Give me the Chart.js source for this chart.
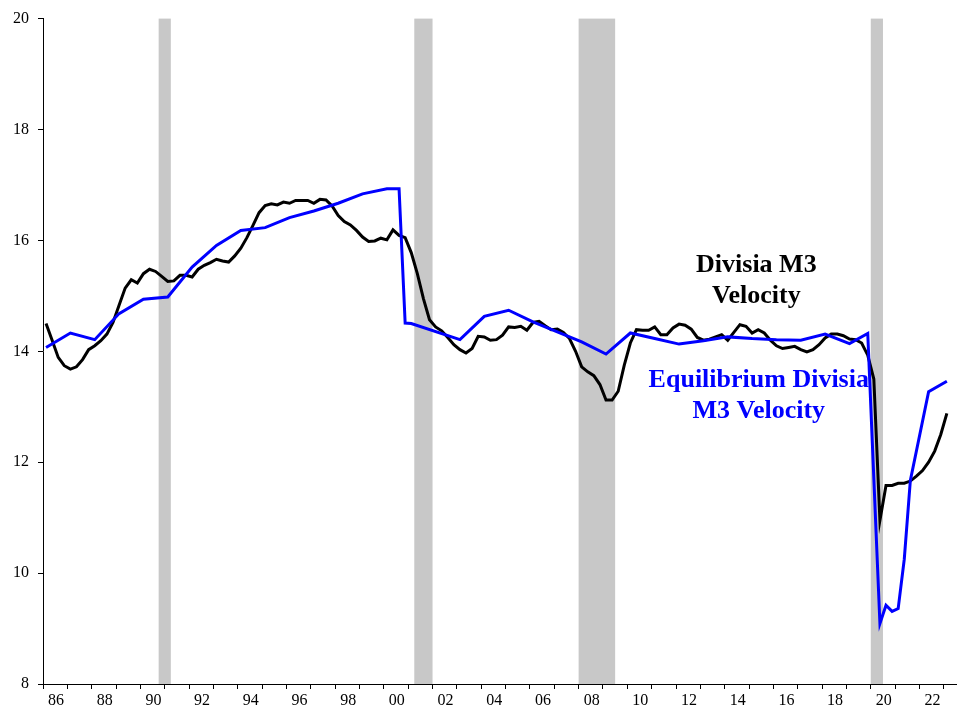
<!DOCTYPE html>
<html>
<head>
<meta charset="utf-8">
<script src="https://cdn.jsdelivr.net/npm/chart.js@4.4.0/dist/chart.umd.min.js"></script>
<style>
  html, body { margin: 0; padding: 0; background: #fff; }
</style>
</head>
<body>
<canvas id="velocityChart" width="957" height="709"></canvas>
<script>
// quarterly Divisia M3 velocity, 1986Q1 .. 2023Q1
const firstQuarter = 1986.125;
const divisiaVelocity = [
  14.50, 14.20, 13.89, 13.74,
  13.68, 13.72, 13.85, 14.03,
  14.10, 14.19, 14.31, 14.52,
  14.83, 15.14, 15.29, 15.23,
  15.40, 15.48, 15.44, 15.35,
  15.26, 15.27, 15.37, 15.37,
  15.34, 15.48, 15.55, 15.60,
  15.66, 15.63, 15.61, 15.72,
  15.86, 16.05, 16.27, 16.50,
  16.63, 16.66, 16.64, 16.69,
  16.67, 16.72, 16.72, 16.72,
  16.67, 16.74, 16.73, 16.62,
  16.45, 16.34, 16.28, 16.18,
  16.06, 15.98, 15.99, 16.04,
  16.01, 16.19, 16.09, 16.05,
  15.78, 15.40, 14.95, 14.57,
  14.44, 14.37, 14.25, 14.12,
  14.03, 13.97, 14.05, 14.27,
  14.26, 14.20, 14.21, 14.29,
  14.44, 14.43, 14.45, 14.38,
  14.52, 14.54, 14.46, 14.39,
  14.40, 14.34, 14.23, 14.00,
  13.72, 13.63, 13.56, 13.40,
  13.12, 13.12, 13.28, 13.75,
  14.15, 14.39, 14.38, 14.38,
  14.44, 14.30, 14.30, 14.42,
  14.49, 14.47, 14.40, 14.25,
  14.20, 14.22, 14.26, 14.30,
  14.20, 14.34, 14.48, 14.45,
  14.33, 14.39, 14.33, 14.20,
  14.10, 14.05, 14.07, 14.09,
  14.03, 13.99, 14.03, 14.12,
  14.24, 14.31, 14.31, 14.28,
  14.22, 14.21, 14.15, 13.93,
  13.50, 10.95, 11.58, 11.58,
  11.62, 11.62, 11.66, 11.75,
  11.85, 12.00, 12.20, 12.50,
  12.88
];

// equilibrium velocity: turning points of the blue line
const eqYears = [
  1986.125, 1987.125, 1988.125, 1989.125, 1990.125, 1991.125, 1992.125,
  1993.125, 1994.125, 1995.125, 1996.125, 1997.125, 1998.125, 1999.125,
  2000.125, 2000.625, 2000.875, 2001.125, 2003.125, 2004.125, 2005.125,
  2006.125, 2007.125, 2008.125, 2009.125, 2010.125, 2011.125, 2012.125,
  2013.125, 2014.125, 2015.125, 2016.125, 2017.125, 2018.125, 2019.125,
  2019.875, 2020.375, 2020.625, 2020.875, 2021.125, 2021.375, 2021.625,
  2022.375, 2023.125
];
const eqVelocity = [
  14.07, 14.33, 14.21, 14.68, 14.94, 14.98, 15.52,
  15.91, 16.18, 16.23, 16.41, 16.53, 16.67, 16.84,
  16.93, 16.93, 14.51, 14.50, 14.21, 14.63, 14.74,
  14.53, 14.35, 14.17, 13.95, 14.33, 14.23, 14.13,
  14.19, 14.26, 14.23, 14.21, 14.20, 14.31, 14.14,
  14.32, 9.09, 9.42, 9.31, 9.36, 10.25, 11.67,
  13.27, 13.46
];

// recessions (shaded)
const recessions = [[1990.75, 1991.25], [2001.25, 2002.0], [2008.0, 2009.5], [2020.0, 2020.5]];

const yTicks = [8, 10, 12, 14, 16, 18, 20];
const xTickYears = [];
for (let y = 1986; y <= 2023; y++) xTickYears.push(y);

const serif = '"Liberation Serif", "Times New Roman", serif';

const divisiaPoints = divisiaVelocity.map((v, i) => ({ x: firstQuarter + i * 0.25, y: v }));
const eqPoints = eqVelocity.map((v, i) => ({ x: eqYears[i], y: v }));

const recessionPlugin = {
  id: 'recessions',
  beforeDatasetsDraw(chart) {
    const { ctx, chartArea, scales } = chart;
    ctx.save();
    ctx.fillStyle = 'rgb(200,200,200)';
    recessions.forEach(([a, b]) => {
      const x0 = scales.x.getPixelForValue(a);
      const x1 = scales.x.getPixelForValue(b);
      ctx.fillRect(x0, chartArea.top, x1 - x0, chartArea.bottom - chartArea.top);
    });
    ctx.restore();
  }
};

const labels = [
  { lines: ['Divisia M3', 'Velocity'], x: 2015.3, y: 15.43, color: '#000' },
  { lines: ['Equilibrium Divisia', 'M3 Velocity'], x: 2015.4, y: 13.35, color: '#0000ff' }
];

const labelPlugin = {
  id: 'seriesLabels',
  afterDatasetsDraw(chart) {
    const { ctx, scales } = chart;
    ctx.save();
    ctx.font = 'bold 26px ' + serif;
    ctx.textAlign = 'center';
    ctx.textBaseline = 'alphabetic';
    labels.forEach(l => {
      const px = scales.x.getPixelForValue(l.x);
      const py = scales.y.getPixelForValue(l.y);
      ctx.fillStyle = l.color;
      l.lines.forEach((t, i) => ctx.fillText(t, px, py + i * 30.5));
    });
    ctx.restore();
  }
};

new Chart(document.getElementById('velocityChart'), {
  type: 'line',
  data: {
    datasets: [
      {
        label: 'Equilibrium Divisia M3 Velocity',
        data: eqPoints,
        borderColor: '#0000ff',
        borderWidth: 3,
        pointRadius: 0,
        tension: 0,
        fill: false
      },
      {
        label: 'Divisia M3 Velocity',
        data: divisiaPoints,
        borderColor: '#000',
        borderWidth: 3,
        pointRadius: 0,
        tension: 0,
        fill: false
      }
    ]
  },
  options: {
    responsive: false,
    animation: false,
    layout: { padding: { top: 9, right: 1, left: 0, bottom: 0 } },
    plugins: { legend: { display: false }, tooltip: { enabled: false } },
    scales: {
      x: {
        type: 'linear',
        min: 1986,
        max: 2023.5,
        afterBuildTicks: s => { s.ticks = xTickYears.map(v => ({ value: v })); },
        afterFit: s => { s.height = 25; },
        grid: { drawOnChartArea: false, tickLength: 5, color: '#000' },
        border: { color: '#000', width: 1 },
        ticks: {
          autoSkip: false,
          maxRotation: 0,
          labelOffset: 13,
          padding: 2,
          color: '#000',
          font: { family: serif, size: 16 },
          callback: v => (v % 2 === 0 ? String(v).slice(-2) : '')
        }
      },
      y: {
        min: 8,
        max: 20,
        afterBuildTicks: s => { s.ticks = yTicks.map(v => ({ value: v })); },
        afterFit: s => { s.width = 43; },
        grid: { drawOnChartArea: false, tickLength: 5, color: '#000' },
        border: { color: '#000', width: 1 },
        ticks: {
          padding: 9,
          color: '#000',
          font: { family: serif, size: 16 }
        }
      }
    }
  },
  plugins: [recessionPlugin, labelPlugin]
});
</script>
</body>
</html>
